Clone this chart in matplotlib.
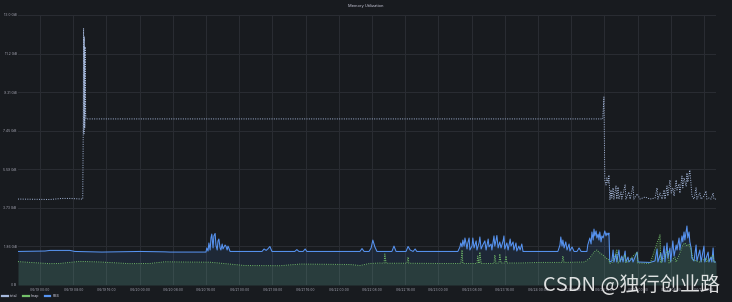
import matplotlib
matplotlib.use("Agg")
import matplotlib.pyplot as plt
from matplotlib.lines import Line2D
import numpy as np

plt.rcParams['font.family'] = ['Inter', 'DejaVu Sans']

# ---- data: time in hours since 06/19 00:00, memory in GiB ----
total_points = [
    (-5.3, 4.15), (2.4, 4.13), (5.3, 4.18), (7.2, 4.18), (10.1, 4.15), (10.3, 4.15),
    (10.4, 6.9), (10.5, 12.4), (10.6, 7.3), (10.7, 12.0), (10.8, 7.6), (10.9, 11.5),
    (11.0, 8.3), (11.1, 8.02), (135.6, 8.02), (135.9, 9.08), (136.1, 5.07), (136.4, 4.83),
    (136.6, 5.17), (136.9, 4.93), (137.1, 5.31), (137.35, 4.11), (137.6, 4.59), (137.8, 4.20),
    (138.1, 4.69), (138.3, 4.15), (138.8, 4.78), (139.0, 4.15), (139.3, 4.73), (139.5, 4.15),
    (140.0, 4.49), (140.2, 4.15), (141.0, 4.83), (141.2, 4.15), (141.9, 4.49), (142.2, 4.15),
    (142.9, 4.78), (143.1, 4.15), (143.9, 4.40), (144.6, 4.15), (145.8, 4.25), (147.0, 4.15),
    (148.2, 4.20), (148.7, 4.69), (148.9, 4.15), (149.4, 4.44), (149.9, 4.15), (150.4, 4.59),
    (150.6, 4.15), (151.1, 4.78), (151.3, 4.30), (151.8, 5.07), (152.1, 4.44), (152.5, 4.69),
    (152.8, 4.30), (153.3, 5.07), (153.5, 4.59), (154.0, 4.88), (154.2, 4.44), (154.7, 5.26),
    (154.9, 4.69), (155.2, 5.17), (155.7, 4.78), (155.9, 5.41), (156.1, 4.97), (156.6, 5.55),
    (156.9, 4.83), (157.1, 4.30), (157.6, 4.15), (158.1, 4.69), (158.3, 4.15), (159.0, 4.44),
    (159.3, 4.15), (160.0, 4.30), (160.5, 4.54), (160.7, 4.15), (161.2, 4.20), (161.7, 4.15),
    (162.2, 4.44), (162.4, 4.15), (162.9, 4.15),
]

heap_points = [
    (-5.3, 1.13), (-2.4, 1.09), (2.4, 1.03), (4.8, 1.04), (7.2, 1.09), (9.6, 1.14), (14.5, 1.11),
    (21.7, 1.03), (26.5, 1.04), (30.1, 1.12), (33.7, 1.11), (41.0, 1.10), (49.4, 0.94),
    (57.8, 0.93), (62.7, 1.01), (74.7, 0.99), (77.1, 0.94), (79.5, 1.04), (81.9, 1.06),
    (82.9, 1.05), (83.1, 1.50), (83.4, 1.05), (88.4, 1.05), (88.7, 1.35), (88.9, 1.05),
    (96.4, 1.04), (101.4, 1.04), (101.7, 1.69), (101.9, 1.04), (105.3, 1.04), (105.5, 1.40),
    (105.8, 1.04), (106.0, 1.59), (106.3, 1.04), (109.4, 1.04), (109.6, 1.45), (109.9, 1.04),
    (110.6, 1.06), (110.8, 1.50), (111.1, 1.06), (112.0, 1.06), (112.3, 1.40), (112.5, 1.06),
    (115.7, 1.06), (120.5, 1.09), (125.8, 1.09), (126.0, 1.40), (126.3, 1.09), (131.3, 1.11),
    (132.5, 1.30), (133.5, 1.59), (134.2, 1.69), (134.9, 1.55), (135.7, 1.45), (136.4, 1.30),
    (137.1, 1.21), (137.3, 1.04), (137.8, 1.06), (139.0, 1.69), (139.3, 1.06), (141.0, 1.45),
    (141.2, 1.06), (143.9, 1.59), (144.1, 1.06), (147.0, 1.04), (149.4, 2.42), (149.6, 1.06),
    (151.3, 1.69), (151.6, 1.06), (153.0, 1.35), (153.3, 1.11), (154.5, 1.69), (154.9, 1.93),
    (155.4, 2.03), (155.9, 1.88), (156.4, 1.98), (156.9, 1.69), (157.4, 1.21), (159.0, 1.11),
    (160.5, 1.30), (160.7, 1.11), (162.2, 1.45), (162.4, 1.11), (162.9, 1.11),
]

rss_points = [
    (-5.3, 1.62), (1.2, 1.64), (2.4, 1.67), (7.2, 1.67), (8.4, 1.62), (14.9, 1.59), (24.1, 1.62),
    (30.1, 1.60), (31.3, 1.59), (39.8, 1.59),
    (40.0, 1.59), (40.2, 1.79), (40.5, 1.64), (40.7, 2.03), (41.0, 1.69), (41.2, 2.27),
    (41.4, 2.46), (41.7, 1.79), (41.9, 2.37), (42.2, 2.49), (42.4, 1.93), (42.7, 1.69),
    (42.9, 2.13), (43.1, 2.22), (43.4, 1.79), (43.6, 1.69), (43.9, 1.98), (44.1, 1.74),
    (44.6, 1.93), (44.8, 1.88), (45.1, 1.69), (45.3, 1.88), (45.5, 1.79), (45.8, 1.62), (46.3, 1.62),
    (53.5, 1.62), (54.0, 1.74), (54.5, 1.67), (54.9, 1.74), (55.4, 1.86), (55.9, 1.62),
    (61.4, 1.62), (61.9, 1.71), (62.4, 1.62), (63.4, 1.62), (63.9, 1.74), (64.3, 1.62),
    (77.1, 1.62), (77.6, 1.76), (78.1, 1.62), (79.3, 1.62), (79.8, 1.79), (80.2, 2.17),
    (80.7, 1.84), (81.2, 1.62),
    (84.8, 1.62), (85.3, 1.88), (85.8, 1.62), (88.2, 1.62), (88.7, 1.86), (89.2, 1.69),
    (89.9, 1.62), (90.4, 1.74), (90.8, 1.62),
    (100.7, 1.62), (101.2, 1.84), (101.4, 2.03), (101.7, 1.84), (101.9, 2.17), (102.2, 1.88),
    (102.4, 2.27), (102.7, 1.98), (102.9, 1.74), (103.1, 2.03), (103.4, 2.27), (103.6, 1.69),
    (104.1, 1.88), (104.3, 2.27), (104.6, 1.79), (105.1, 2.13), (105.3, 1.69), (105.8, 2.03),
    (106.0, 2.32), (106.3, 1.74), (106.7, 1.93), (107.2, 2.13), (107.5, 1.69), (108.0, 2.22),
    (108.2, 1.84), (108.7, 1.98), (108.9, 1.69), (109.4, 2.37), (109.6, 1.88), (109.9, 2.17),
    (110.1, 2.39), (110.4, 1.79), (110.8, 2.08), (111.1, 1.79), (111.6, 2.13), (111.8, 2.37),
    (112.0, 1.74), (112.5, 2.03), (112.8, 1.69), (113.3, 2.22), (113.5, 1.88), (114.0, 2.08),
    (114.2, 1.69), (114.7, 2.03), (114.9, 1.64), (115.4, 1.88), (115.7, 1.69), (116.1, 1.98),
    (116.4, 1.62),
    (124.1, 1.62), (124.8, 1.62), (125.3, 1.93), (125.5, 2.32), (125.8, 1.88), (126.0, 2.17),
    (126.3, 1.79), (126.7, 2.08), (127.0, 1.69), (127.5, 1.98), (127.7, 1.64), (128.2, 1.84),
    (128.7, 1.62), (129.4, 1.62), (129.9, 1.79), (130.4, 1.62),
    (131.8, 1.62), (132.0, 1.93), (132.5, 2.27), (132.8, 1.98), (133.0, 2.56), (133.3, 2.17),
    (133.5, 2.70), (133.7, 2.37), (134.0, 2.61), (134.2, 2.27), (134.5, 2.46), (134.7, 2.17),
    (134.9, 2.56), (135.2, 2.08), (135.4, 2.37), (135.7, 2.27), (136.1, 2.61), (136.4, 2.37),
    (136.6, 2.51), (136.9, 2.42), (137.1, 2.51), (137.3, 1.11),
    (137.8, 1.16), (138.1, 1.69), (138.3, 1.11), (138.8, 1.50), (139.0, 1.11), (139.5, 1.69),
    (139.8, 1.11), (140.2, 1.40), (140.5, 1.11), (141.0, 1.64), (141.2, 1.11), (141.7, 1.35),
    (141.9, 1.11), (142.7, 1.30), (142.9, 1.11), (143.9, 1.59), (144.1, 1.11), (147.0, 1.09),
    (148.2, 1.16), (148.7, 1.74), (148.9, 1.11), (149.6, 1.55), (149.9, 1.11), (150.4, 1.88),
    (150.6, 1.11), (151.1, 2.03), (151.3, 1.30), (151.8, 1.79), (152.0, 1.11), (152.5, 2.13),
    (152.8, 1.40), (153.3, 1.93), (153.5, 1.69), (154.0, 2.27), (154.2, 1.69), (154.7, 2.37),
    (154.9, 2.08), (155.2, 2.56), (155.4, 2.17), (155.9, 2.85), (156.1, 2.27), (156.4, 2.56),
    (156.6, 2.08), (156.9, 1.79), (157.1, 1.30), (157.6, 1.16), (158.1, 1.93), (158.3, 1.16),
    (159.0, 1.69), (159.3, 1.11), (160.0, 1.88), (160.2, 1.11), (161.0, 1.59), (161.2, 1.11),
    (161.7, 1.35), (161.9, 1.11), (162.2, 1.79), (162.4, 1.11), (162.9, 1.11),
]

x_tick_hours = list(range(0, 161, 8))
x_tick_labels = [
    "06/19 00:00", "06/19 08:00", "06/19 16:00", "06/20 00:00", "06/20 08:00", "06/20 16:00",
    "06/21 00:00", "06/21 08:00", "06/21 16:00", "06/22 00:00", "06/22 08:00", "06/22 16:00",
    "06/23 00:00", "06/23 08:00", "06/23 16:00", "06/24 00:00", "06/24 08:00", "06/24 16:00",
    "06/25 00:00", "06/25 08:00", "06/25 16:00",
]
y_tick_bytes = [0, 2e9, 4e9, 6e9, 8e9, 10e9, 12e9, 14e9]
y_tick_labels = ["0 B", "1.86 GiB", "3.73 GiB", "5.59 GiB", "7.45 GiB", "9.31 GiB", "11.2 GiB", "13.0 GiB"]
series_names = ["total", "heap", "RSS"]

# ---- style ----
BG = "#181b1f"
TXT = "#ccccdc"
C_TOTAL = "#a6b9dc"
C_HEAP = "#73BF69"
C_RSS = "#5794F2"
GRID = "#2a2d33"

fig = plt.figure(figsize=(7.32, 3.02), dpi=100, facecolor=BG)
ax = fig.add_axes([18 / 732, 17 / 302, 698 / 732, 270 / 302])
ax.set_facecolor(BG)

t_tot, v_tot = map(np.array, zip(*total_points))
t_heap, v_heap = map(np.array, zip(*heap_points))
t_rss, v_rss = map(np.array, zip(*rss_points))

ax.fill_between(t_rss, v_rss, 0, color=C_RSS, alpha=0.11, lw=0)
ax.fill_between(t_heap, v_heap, 0, color=C_HEAP, alpha=0.14, lw=0)
ax.plot(t_rss, v_rss, color=C_RSS, lw=0.75, solid_joinstyle="round")
ax.plot(t_heap, v_heap, color=C_HEAP, lw=0.7, linestyle=(0, (1, 1.3)))
ax.plot(t_tot, v_tot, color=C_TOTAL, lw=0.7, linestyle=(0, (1, 1.4)))

gib = 2 ** 30
ax.set_xlim(-5.3, 162.9)
ax.set_ylim(0, 14e9 / gib)
ax.set_xticks(x_tick_hours)
ax.set_xticklabels(x_tick_labels)
ax.set_yticks([b / gib for b in y_tick_bytes])
ax.set_yticklabels(y_tick_labels)
ax.tick_params(axis="both", length=0, labelsize=2.4, labelcolor=TXT)
ax.tick_params(axis="y", pad=1.0)
ax.tick_params(axis="x", pad=2.0)
for lab in ax.get_xticklabels() + ax.get_yticklabels():
    lab.set_alpha(0.8)
ax.grid(True, color=GRID, lw=0.7)
ax.set_axisbelow(True)
for s in ax.spines.values():
    s.set_visible(False)

fig.text(0.5, (302 - 6) / 302, "Memory Utilization", ha="center", va="center",
         fontsize=2.9, color=TXT)

handles = [Line2D([], [], color=c, lw=1.6) for c in (C_TOTAL, C_HEAP, C_RSS)]
leg = fig.legend(handles, series_names, loc="center left",
                 bbox_to_anchor=(2 / 732, (302 - 296) / 302), ncol=3, frameon=False,
                 fontsize=2.6, handlelength=1.6, handletextpad=0.6, columnspacing=1.5,
                 borderaxespad=0, borderpad=0)
for t in leg.get_texts():
    t.set_color(TXT)

fig.text(543 / 732, (302 - 291) / 302, "CSDN @独行创业路", ha="left", va="baseline",
         fontsize=14.5, color="white", alpha=0.85,
         family=["Noto Sans CJK SC", "DejaVu Sans"])

fig.savefig("out.png", dpi=100, facecolor=BG)
